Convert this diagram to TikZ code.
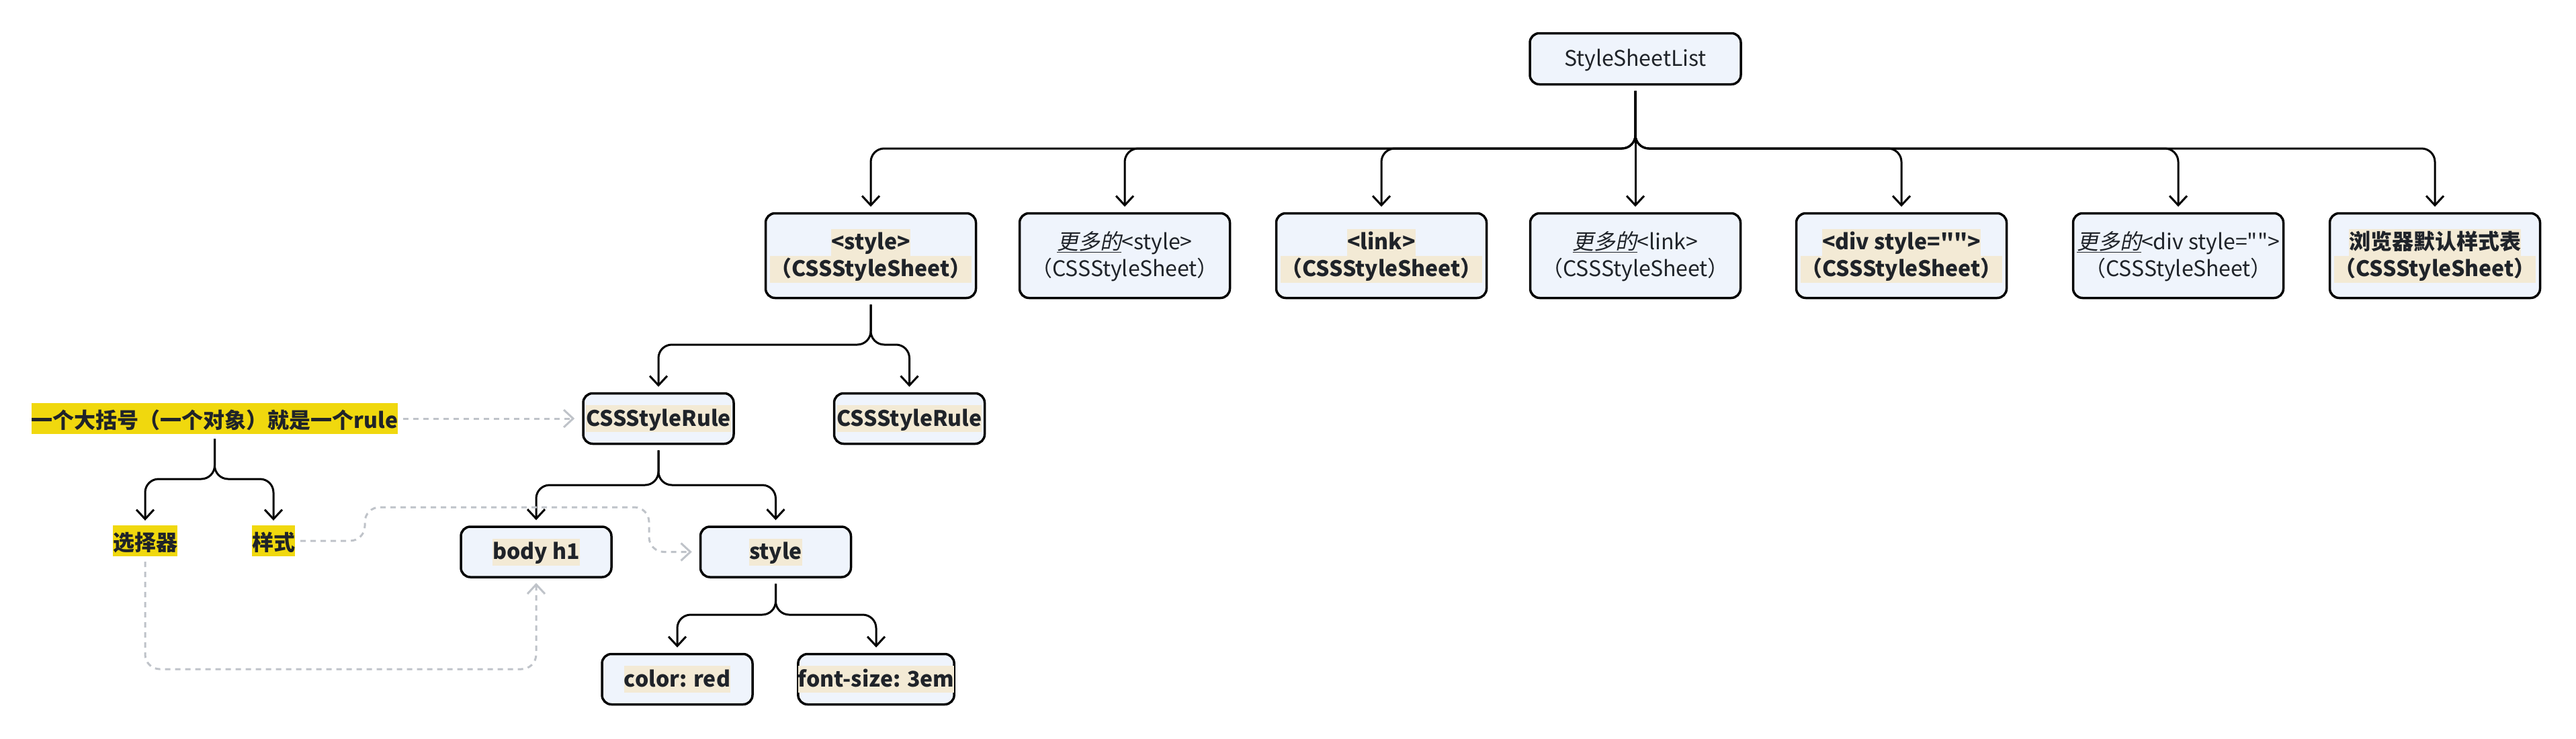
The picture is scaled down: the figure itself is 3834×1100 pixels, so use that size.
\documentclass[tikz,border=0pt]{standalone}
\usepackage{fontspec}
\setmainfont{Noto Sans CJK SC}[Ligatures=TeXOff]
\newfontfamily\slfont{Noto Sans CJK SC}[FakeSlant=0.2,Ligatures=TeXOff]
\usetikzlibrary{arrows.meta,calc}
\definecolor{boxfill}{HTML}{EFF4FC}
\definecolor{hlc}{HTML}{F3EAD5}
\definecolor{yl}{HTML}{F0D80E}
\definecolor{txt}{HTML}{1F2329}
\definecolor{gr}{HTML}{BFC3C9}
\newcommand\hl[1]{{\setlength\fboxsep{0pt}\colorbox{hlc}{\rule[-9pt]{0pt}{40pt}#1}}}
\newcommand\plainline[1]{\rule[-9pt]{0pt}{40pt}#1}
\newcommand\more{\underline{\slfont 更多的}}
\tikzset{
  box/.style={draw=black, line width=3.5pt, rounded corners=14pt, fill=boxfill,
    inner sep=0pt, align=center, text=txt, font=\fontsize{32}{40}\selectfont},
  wide/.style={minimum width=313pt, minimum height=126pt},
  small/.style={minimum width=224pt, minimum height=75pt},
  ylabel/.style={fill=yl, inner sep=0pt, text height=37pt, text depth=9pt, text=txt,
    font=\fontsize{32}{40}\selectfont\bfseries},
  tree/.style={draw=black, line width=3pt, rounded corners=20pt,
    -{Straight Barb[length=14pt,width=26pt]}, shorten <=8pt, shorten >=8pt},
  gdash/.style={draw=gr, line width=3pt, dash pattern=on 8pt off 7pt,
    rounded corners=22pt, -{Straight Barb[length=14pt,width=26pt]}}
}
\begin{document}
\begin{tikzpicture}[x=1pt,y=-1pt]
\useasboundingbox (0,0) rectangle (3834,1100);
% nodes
\node[box, minimum width=314pt, minimum height=76pt] (root) at (2434,87.5) {\plainline{StyleSheetList}};
\node[box, wide] (c1) at (1296,380.5) {\bfseries\hl{<style>}\\\bfseries\hl{（CSSStyleSheet）}};
\node[box, wide] (c2) at (1674,380.5) {\plainline{\more<style>}\\\plainline{（CSSStyleSheet）}};
\node[box, wide] (c3) at (2056,380.5) {\bfseries\hl{<link>}\\\bfseries\hl{（CSSStyleSheet）}};
\node[box, wide] (c4) at (2434,380.5) {\plainline{\more<link>}\\\plainline{（CSSStyleSheet）}};
\node[box, wide] (c5) at (2830,380.5) {\bfseries\hl{<div style="">}\\\bfseries\hl{（CSSStyleSheet）}};
\node[box, wide] (c6) at (3242,380.5) {\plainline{\more<div style="">}\\\plainline{（CSSStyleSheet）}};
\node[box, wide] (c7) at (3624,380.5) {\bfseries\hl{浏览器默认样式表}\\\bfseries\hl{（CSSStyleSheet）}};
\node[box, small] (rule1) at (980,623) {\bfseries\hl{CSSStyleRule}};
\node[box, small] (rule2) at (1353.5,623) {\bfseries\hl{CSSStyleRule}};
\node[box, small] (body) at (798,821.5) {\bfseries\hl{body h1}};
\node[box, small] (stylebox) at (1154.5,821.5) {\bfseries\hl{style}};
\node[box, small] (color) at (1008,1011) {\bfseries\hl{color: red}};
\node[box, small] (font) at (1304,1011) {\bfseries\hl{font-size: 3em}};
\node[ylabel] (rulelabel) at (319.5,623) {一个大括号（一个对象）就是一个rule};
\node[ylabel] (sel) at (216,805) {选择器};
\node[ylabel] (sty) at (407,805) {样式};
% bus levels
\coordinate (b0) at (0,221);
\coordinate (b1) at (0,513);
\coordinate (b2) at (0,713);
\coordinate (b3) at (0,722);
\coordinate (b4) at (0,915);
\coordinate (b5) at (0,996);
% tree connectors
\foreach \c in {c1,c2,c3,c5,c6,c7}
  \draw[tree] (root.south) -- (root.south |- b0) -| (\c.north);
\draw[tree] (root) -- (c4);
\draw[tree] (c1.south) -- (c1.south |- b1) -| (rule1.north);
\draw[tree] (c1.south) -- (c1.south |- b1) -| (rule2.north);
\draw[tree, shorten <=7pt, shorten >=7pt] (rulelabel.south) -- (rulelabel.south |- b2) -| (sel.north);
\draw[tree, shorten <=7pt, shorten >=7pt] (rulelabel.south) -- (rulelabel.south |- b2) -| (sty.north);
\draw[tree] (rule1.south) -- (rule1.south |- b3) -| (body.north);
\draw[tree] (rule1.south) -- (rule1.south |- b3) -| (stylebox.north);
\draw[tree] (stylebox.south) -- (stylebox.south |- b4) -| (color.north);
\draw[tree] (stylebox.south) -- (stylebox.south |- b4) -| (font.north);
% dashed connectors
\draw[gdash, shorten <=8pt, shorten >=11pt] (rulelabel) -- (rule1);
\coordinate (w1) at (543,805);
\coordinate (w2) at (543,755);
\coordinate (w3) at (966,755);
\coordinate (w4) at (966,821.5);
\draw[gdash, shorten <=8pt, shorten >=11pt] (sty.east) -- (w1) -- (w2) -- (w3) -- (w4) -- (stylebox.west);
\draw[gdash, shorten <=8pt, shorten >=7pt] (sel.south) -- (sel.south |- b5) -| (body.south);
\end{tikzpicture}
\end{document}
